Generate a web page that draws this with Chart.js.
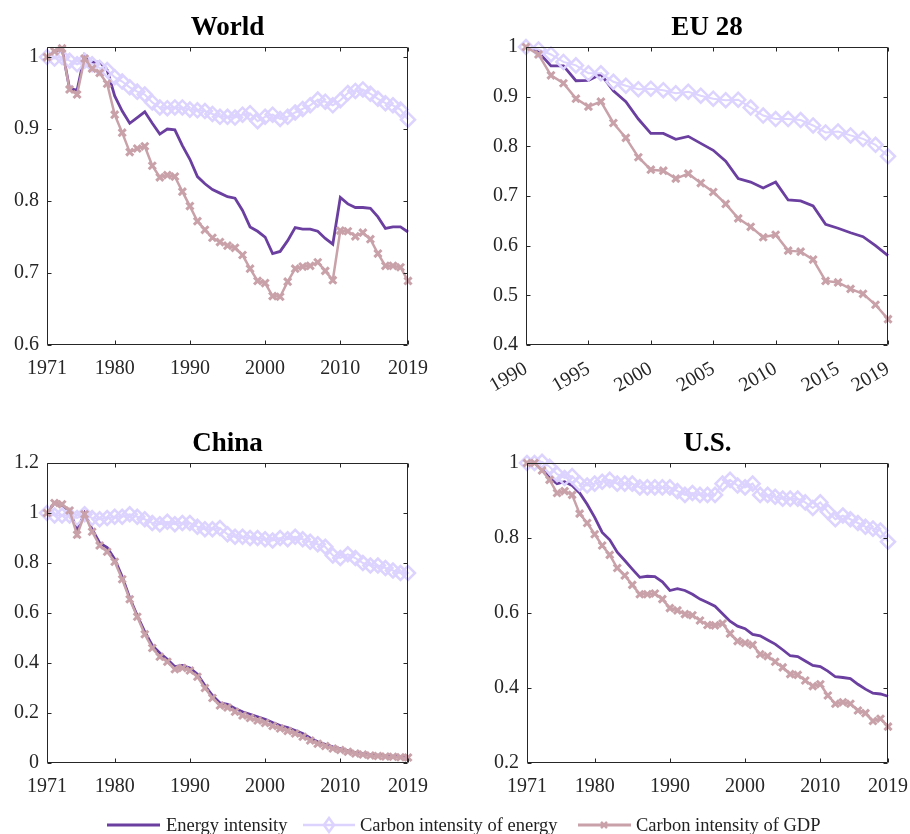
<!DOCTYPE html>
<html lang="en">
<head>
<meta charset="UTF-8">
<title>Energy and carbon intensity</title>
<script src="https://cdn.jsdelivr.net/npm/chart.js@4"></script>
<style>
  body { margin: 0; background: #fff; }
  #wrap { position: relative; width: 910px; height: 834px; overflow: hidden; }
  #wrap canvas { position: absolute; }
  .leg { position: absolute; top: 814px; height: 22px; display: flex; align-items: center;
         font: 18.5px "Liberation Serif", "Times New Roman", serif; color: #222; white-space: nowrap; }
  .leg svg { margin-right: 5px; }
</style>
</head>
<body>
<div id="wrap">
  <canvas id="world" width="455" height="400" style="left:0;top:0"></canvas>
  <canvas id="eu" width="470" height="400" style="left:455px;top:0"></canvas>
  <canvas id="china" width="455" height="400" style="left:0;top:416px"></canvas>
  <canvas id="us" width="470" height="400" style="left:455px;top:416px"></canvas>

  <div class="leg" style="left:107px">
    <svg width="54" height="16"><line x1="0" y1="8" x2="53" y2="8" stroke="#6a3fa0" stroke-width="3"/></svg>
    <span>Energy intensity</span>
  </div>
  <div class="leg" style="left:303px">
    <svg width="52" height="18"><line x1="0" y1="9" x2="52" y2="9" stroke="#ddd3ff" stroke-width="2.5"/>
      <polygon points="26,2 31,9 26,16 21,9" fill="none" stroke="#ddd3ff" stroke-width="2.5"/></svg>
    <span>Carbon intensity of energy</span>
  </div>
  <div class="leg" style="left:578px">
    <svg width="53" height="16"><line x1="0" y1="8" x2="53" y2="8" stroke="#c9a1a9" stroke-width="3"/>
      <path d="M23,5 L29,11 M29,5 L23,11" stroke="#c9a1a9" stroke-width="2.5"/></svg>
    <span>Carbon intensity of GDP</span>
  </div>
</div>

<script>
// ---- data (index, first year = 1) ----
const years71 = [1971,1972,1973,1974,1975,1976,1977,1978,1979,1980,1981,1982,1983,1984,1985,1986,1987,1988,1989,1990,
                 1991,1992,1993,1994,1995,1996,1997,1998,1999,2000,2001,2002,2003,2004,2005,2006,2007,2008,2009,2010,
                 2011,2012,2013,2014,2015,2016,2017,2018,2019];
const years90 = [1990,1991,1992,1993,1994,1995,1996,1997,1998,1999,2000,2001,2002,2003,2004,2005,2006,2007,2008,2009,
                 2010,2011,2012,2013,2014,2015,2016,2017,2018,2019];

const worldEnergy = [1.0,1.008,1.012,0.956,0.954,1.003,0.993,0.993,0.982,0.946,0.925,0.908,0.916,0.924,0.908,0.893,0.900,0.899,0.877,0.858,
                     0.834,0.824,0.816,0.811,0.806,0.804,0.787,0.764,0.758,0.750,0.727,0.730,0.745,0.763,0.761,0.761,0.758,0.748,0.740,0.805,
                     0.796,0.791,0.791,0.790,0.778,0.762,0.764,0.764,0.757];
const worldCarbonEnergy = [1.0,0.998,1.0,0.995,0.990,0.995,0.990,0.985,0.982,0.972,0.966,0.958,0.952,0.948,0.937,0.930,0.929,0.930,0.930,0.927,
                           0.926,0.925,0.921,0.917,0.917,0.916,0.920,0.922,0.911,0.917,0.920,0.914,0.917,0.923,0.928,0.933,0.941,0.938,0.933,0.940,
                           0.950,0.953,0.955,0.949,0.942,0.936,0.933,0.927,0.913];
const worldCarbonGdp = [1.0,1.008,1.012,0.955,0.948,0.998,0.984,0.978,0.963,0.920,0.895,0.868,0.873,0.876,0.849,0.833,0.836,0.834,0.813,0.793,
                        0.772,0.760,0.749,0.743,0.738,0.735,0.725,0.706,0.689,0.686,0.668,0.667,0.688,0.706,0.709,0.710,0.715,0.703,0.690,0.759,
                        0.758,0.751,0.756,0.747,0.727,0.710,0.710,0.708,0.689];

const euEnergy = [1.0,0.990,0.962,0.962,0.932,0.933,0.945,0.912,0.890,0.855,0.826,0.826,0.814,0.820,0.806,0.792,0.770,0.735,0.728,0.716,
                  0.728,0.692,0.690,0.680,0.643,0.635,0.626,0.618,0.600,0.580];
const euCarbonEnergy = [1.0,0.995,0.985,0.970,0.963,0.947,0.947,0.930,0.922,0.915,0.916,0.913,0.907,0.910,0.902,0.896,0.893,0.894,0.878,0.862,
                        0.855,0.855,0.853,0.842,0.828,0.830,0.822,0.815,0.803,0.780];
const euCarbonGdp = [1.0,0.985,0.943,0.927,0.896,0.880,0.890,0.847,0.817,0.778,0.753,0.751,0.735,0.745,0.726,0.708,0.684,0.655,0.638,0.617,
                     0.622,0.590,0.588,0.572,0.529,0.526,0.513,0.503,0.481,0.452];

const chinaEnergy = [1.0,1.040,1.030,1.010,0.930,1.000,0.935,0.880,0.862,0.815,0.745,0.660,0.590,0.525,0.470,0.440,0.415,0.385,0.390,0.380,
                     0.355,0.310,0.270,0.240,0.235,0.218,0.205,0.195,0.185,0.175,0.162,0.150,0.142,0.130,0.118,0.100,0.085,0.075,0.065,0.058,
                     0.050,0.042,0.037,0.033,0.031,0.028,0.027,0.025,0.024];
const chinaCarbonEnergy = [1.0,0.990,0.990,0.990,0.980,0.995,0.980,0.975,0.980,0.985,0.985,0.995,0.985,0.975,0.960,0.955,0.965,0.955,0.960,0.960,
                           0.945,0.935,0.935,0.940,0.915,0.905,0.905,0.900,0.900,0.895,0.890,0.900,0.895,0.905,0.895,0.885,0.875,0.865,0.830,0.820,
                           0.835,0.820,0.800,0.790,0.790,0.780,0.770,0.760,0.760];
const chinaCarbonGdp = [1.0,1.040,1.035,1.010,0.913,0.995,0.925,0.870,0.845,0.805,0.735,0.655,0.585,0.515,0.460,0.425,0.405,0.375,0.380,0.370,
                        0.345,0.300,0.260,0.230,0.222,0.205,0.190,0.180,0.170,0.160,0.148,0.138,0.128,0.118,0.105,0.090,0.077,0.068,0.058,0.052,
                        0.045,0.038,0.034,0.030,0.028,0.026,0.025,0.023,0.022];

const usEnergy = [1.0,1.0,0.985,0.960,0.945,0.950,0.940,0.920,0.890,0.855,0.815,0.795,0.762,0.740,0.717,0.695,0.698,0.697,0.683,0.660,
                  0.665,0.660,0.650,0.637,0.628,0.618,0.598,0.578,0.565,0.558,0.543,0.539,0.528,0.517,0.502,0.486,0.484,0.472,0.460,0.457,
                  0.445,0.430,0.428,0.425,0.410,0.397,0.386,0.384,0.378];
const usCarbonEnergy = [1.0,1.0,1.003,0.990,0.970,0.960,0.965,0.945,0.940,0.945,0.950,0.955,0.945,0.945,0.945,0.935,0.935,0.935,0.935,0.935,
                        0.925,0.915,0.920,0.915,0.915,0.915,0.945,0.955,0.940,0.935,0.945,0.915,0.915,0.910,0.905,0.905,0.905,0.895,0.880,0.895,
                        0.870,0.850,0.860,0.850,0.840,0.830,0.825,0.820,0.790];
const usCarbonGdp = [1.0,1.0,0.980,0.955,0.920,0.925,0.915,0.865,0.840,0.810,0.780,0.755,0.720,0.700,0.675,0.650,0.650,0.652,0.637,0.613,
                     0.607,0.597,0.594,0.580,0.568,0.567,0.572,0.545,0.525,0.520,0.515,0.490,0.485,0.470,0.455,0.437,0.435,0.420,0.405,0.410,
                     0.380,0.358,0.362,0.358,0.340,0.333,0.312,0.318,0.297];

const xTicks71 = [1971, 1980, 1990, 2000, 2010, 2019];
const xTicks90 = [1990, 1995, 2000, 2005, 2010, 2015, 2019];
const worldYTicks = [0.6, 0.7, 0.8, 0.9, 1];
const euYTicks = [0.4, 0.5, 0.6, 0.7, 0.8, 0.9, 1];
const chinaYTicks = [0, 0.2, 0.4, 0.6, 0.8, 1, 1.2];
const usYTicks = [0.2, 0.4, 0.6, 0.8, 1];

const seriesNames = ['Energy intensity', 'Carbon intensity of energy', 'Carbon intensity of GDP'];

// ---- drawing ----
const SERIF = '"Liberation Serif", "Times New Roman", serif';
const AXIS = '#262626';

// MATLAB-like box with inward ticks on all four sides, title centred over the box
const boxAxes = {
  id: 'boxAxes',
  afterDraw(chart, args, opts) {
    const ctx = chart.ctx, a = chart.chartArea;
    const x = chart.scales.x, y = chart.scales.y;
    const L = Math.round(a.left) + 0.5, R = Math.round(a.right) - 0.5;
    const T = Math.round(a.top) + 0.5, B = Math.round(a.bottom) - 0.5;
    ctx.save();
    ctx.strokeStyle = AXIS;
    ctx.lineWidth = 1;
    ctx.beginPath();
    ctx.moveTo(L, T); ctx.lineTo(R, T); ctx.lineTo(R, B); ctx.lineTo(L, B); ctx.closePath();
    x.ticks.forEach(t => {
      const px = Math.round(x.getPixelForValue(t.value)) + 0.5;
      ctx.moveTo(px, B); ctx.lineTo(px, B - 4);
      ctx.moveTo(px, T); ctx.lineTo(px, T + 4);
    });
    y.ticks.forEach(t => {
      const py = Math.round(y.getPixelForValue(t.value)) + 0.5;
      ctx.moveTo(L, py); ctx.lineTo(L + 4, py);
      ctx.moveTo(R, py); ctx.lineTo(R - 4, py);
    });
    ctx.stroke();

    ctx.fillStyle = '#000';
    ctx.font = 'bold 27px ' + SERIF;
    ctx.textAlign = 'center';
    ctx.textBaseline = 'middle';
    ctx.fillText(opts.text, (a.left + a.right) / 2, 28);
    ctx.restore();
  }
};

function pts(years, vals) {
  return years.map((yr, i) => ({ x: yr, y: vals[i] }));
}

function makeChart(id, c) {
  const tickFont = { family: SERIF, size: 20 };
  new Chart(document.getElementById(id), {
    type: 'line',
    data: {
      datasets: [
        {
          label: seriesNames[0], data: pts(c.years, c.energy),
          borderColor: '#6a3fa0', borderWidth: 2.8, pointRadius: 0, order: 3
        },
        {
          label: seriesNames[1], data: pts(c.years, c.carbonEnergy),
          borderColor: '#ddd3ff', borderWidth: 2, pointStyle: 'rectRot', pointRadius: 7,
          pointBorderWidth: 2.5, pointBorderColor: '#ddd3ff', pointBackgroundColor: 'rgba(255,255,255,0)', order: 2
        },
        {
          label: seriesNames[2], data: pts(c.years, c.carbonGdp),
          borderColor: '#c9a1a9', borderWidth: 2.5, pointStyle: 'crossRot', pointRadius: 5,
          pointBorderWidth: 3, pointBorderColor: '#c9a1a9', order: 1
        }
      ]
    },
    options: {
      responsive: false,
      animation: false,
      devicePixelRatio: 1,
      clip: false,
      elements: { line: { tension: 0 } },
      layout: { padding: { left: 0, top: 47, bottom: 0, right: c.padRight } },
      plugins: {
        legend: { display: false },
        tooltip: { enabled: false },
        title: { display: false },
        boxAxes: { text: c.title }
      },
      scales: {
        x: {
          type: 'linear', min: c.years[0], max: c.years[c.years.length - 1],
          grid: { display: false, drawTicks: false }, border: { display: false },
          afterBuildTicks: s => { s.ticks = c.xTicks.map(v => ({ value: v })); },
          afterFit: s => { s.height = c.xHeight; },
          ticks: {
            font: tickFont, color: AXIS, padding: 12, autoSkip: false,
            minRotation: c.rotation, maxRotation: c.rotation,
            callback: v => String(v)
          }
        },
        y: {
          min: c.yMin, max: c.yMax,
          grid: { display: false, drawTicks: false }, border: { display: false },
          afterBuildTicks: s => { s.ticks = c.yTicks.map(v => ({ value: v })); },
          afterFit: s => { s.width = c.yWidth; },
          ticks: { font: tickFont, color: AXIS, padding: 8, callback: v => String(v) }
        }
      }
    },
    plugins: [boxAxes]
  });
}

makeChart('world', {
  title: 'World', years: years71, energy: worldEnergy, carbonEnergy: worldCarbonEnergy, carbonGdp: worldCarbonGdp,
  yMin: 0.6, yMax: 1.014, yTicks: worldYTicks, xTicks: xTicks71, rotation: 0,
  yWidth: 47, xHeight: 55, padRight: 47
});
makeChart('eu', {
  title: 'EU 28', years: years90, energy: euEnergy, carbonEnergy: euCarbonEnergy, carbonGdp: euCarbonGdp,
  yMin: 0.4, yMax: 1.0, yTicks: euYTicks, xTicks: xTicks90, rotation: 30,
  yWidth: 71, xHeight: 55, padRight: 37
});
makeChart('china', {
  title: 'China', years: years71, energy: chinaEnergy, carbonEnergy: chinaCarbonEnergy, carbonGdp: chinaCarbonGdp,
  yMin: 0, yMax: 1.2, yTicks: chinaYTicks, xTicks: xTicks71, rotation: 0,
  yWidth: 47, xHeight: 53, padRight: 47
});
makeChart('us', {
  title: 'U.S.', years: years71, energy: usEnergy, carbonEnergy: usCarbonEnergy, carbonGdp: usCarbonGdp,
  yMin: 0.2, yMax: 1.0, yTicks: usYTicks, xTicks: xTicks71, rotation: 0,
  yWidth: 72, xHeight: 53, padRight: 37
});
</script>
</body>
</html>
